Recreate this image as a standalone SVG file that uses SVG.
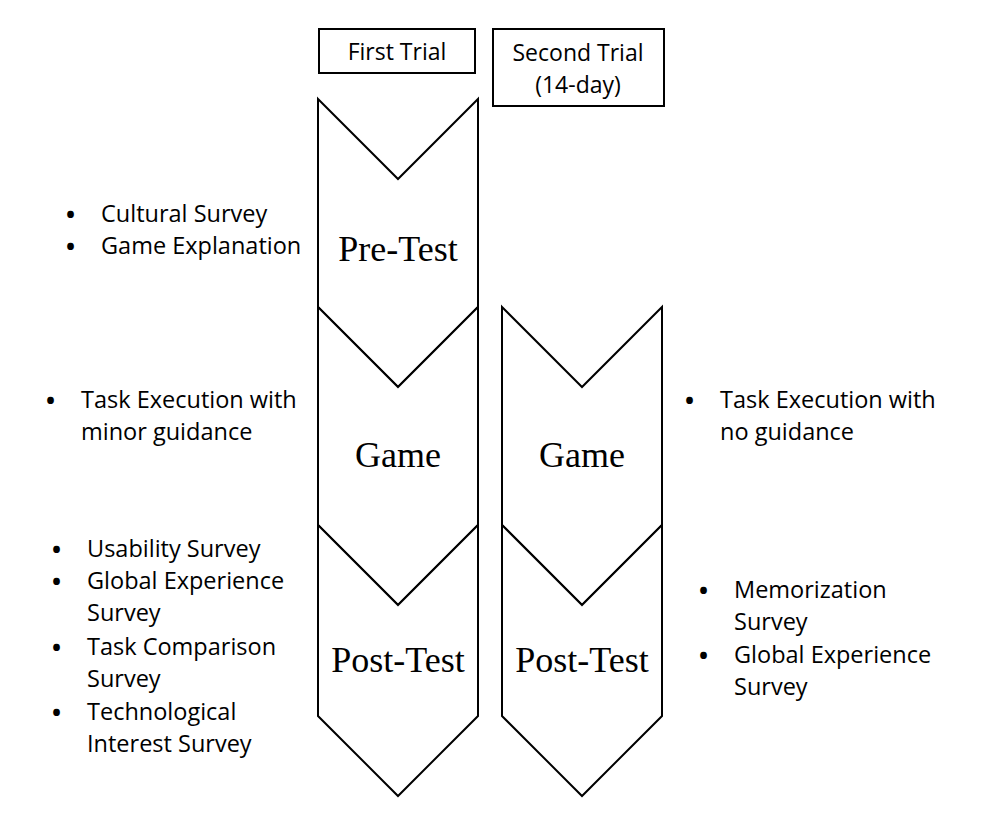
<svg xmlns="http://www.w3.org/2000/svg" width="992" height="816" viewBox="0 0 992 816">
<style>
.box{fill:#fff;stroke:#000;stroke-width:2}
.chev{fill:#fff;stroke:#000;stroke-width:2;stroke-linejoin:miter}
.hd{font-family:"Open Sans","Liberation Sans",sans-serif;font-size:23px;fill:#000;text-anchor:middle}
.lbl{font-family:"Liberation Serif","Times New Roman",serif;font-size:36px;fill:#000;text-anchor:middle}
.bl{font-family:"Open Sans","Liberation Sans",sans-serif;font-size:23.5px;fill:#000}
.bu{font-family:"Open Sans","Liberation Sans",sans-serif;font-size:24px;font-weight:700;fill:#000}
</style>
<rect width="992" height="816" fill="#fff"/>
<g id="header-first">
<rect class="box" x="319" y="29" width="156" height="44"/>
<text class="hd" x="397" y="60">First Trial</text>
</g>
<g id="header-second">
<rect class="box" x="493" y="29" width="171" height="77"/>
<text class="hd" x="578" y="61">Second Trial</text>
<text class="hd" x="578" y="93">(14-day)</text>
</g>
<g id="first-pretest">
<polygon class="chev" points="318,99 398,179 478,99 478,307 398,387 318,307"/>
<text class="lbl" x="398" y="261">Pre-Test</text>
</g>
<g id="first-game">
<polygon class="chev" points="318,307 398,387 478,307 478,525 398,605 318,525"/>
<text class="lbl" x="398" y="467">Game</text>
</g>
<g id="first-posttest">
<polygon class="chev" points="318,525 398,605 478,525 478,716 398,796 318,716"/>
<text class="lbl" x="398" y="672">Post-Test</text>
</g>
<g id="second-game">
<polygon class="chev" points="502,307 582,387 662,307 662,525 582,605 502,525"/>
<text class="lbl" x="582" y="467">Game</text>
</g>
<g id="second-posttest">
<polygon class="chev" points="502,525 582,605 662,525 662,716 582,796 502,716"/>
<text class="lbl" x="582" y="672">Post-Test</text>
</g>
<g id="connectors"></g>
<g id="notes-pretest">
<text class="bu" x="66" y="223">•</text><text class="bl" x="101" y="222">Cultural Survey</text>
<text class="bu" x="66" y="255">•</text><text class="bl" x="101" y="254">Game Explanation</text>
</g>
<g id="notes-game-first">
<text class="bu" x="46" y="409">•</text><text class="bl" x="81" y="408">Task Execution with</text>
<text class="bl" x="81" y="440">minor guidance</text>
</g>
<g id="notes-post-first">
<text class="bu" x="52" y="558">•</text><text class="bl" x="87" y="557">Usability Survey</text>
<text class="bu" x="52" y="590">•</text><text class="bl" x="87" y="589">Global Experience</text>
<text class="bl" x="87" y="621">Survey</text>
<text class="bu" x="52" y="656">•</text><text class="bl" x="87" y="655">Task Comparison</text>
<text class="bl" x="87" y="687">Survey</text>
<text class="bu" x="52" y="721">•</text><text class="bl" x="87" y="720">Technological</text>
<text class="bl" x="87" y="752">Interest Survey</text>
</g>
<g id="notes-game-second">
<text class="bu" x="685" y="409">•</text><text class="bl" x="720" y="408">Task Execution with</text>
<text class="bl" x="720" y="440">no guidance</text>
</g>
<g id="notes-post-second">
<text class="bu" x="699" y="599">•</text><text class="bl" x="734" y="598">Memorization</text>
<text class="bl" x="734" y="630">Survey</text>
<text class="bu" x="699" y="664">•</text><text class="bl" x="734" y="663">Global Experience</text>
<text class="bl" x="734" y="695">Survey</text>
</g>
</svg>
